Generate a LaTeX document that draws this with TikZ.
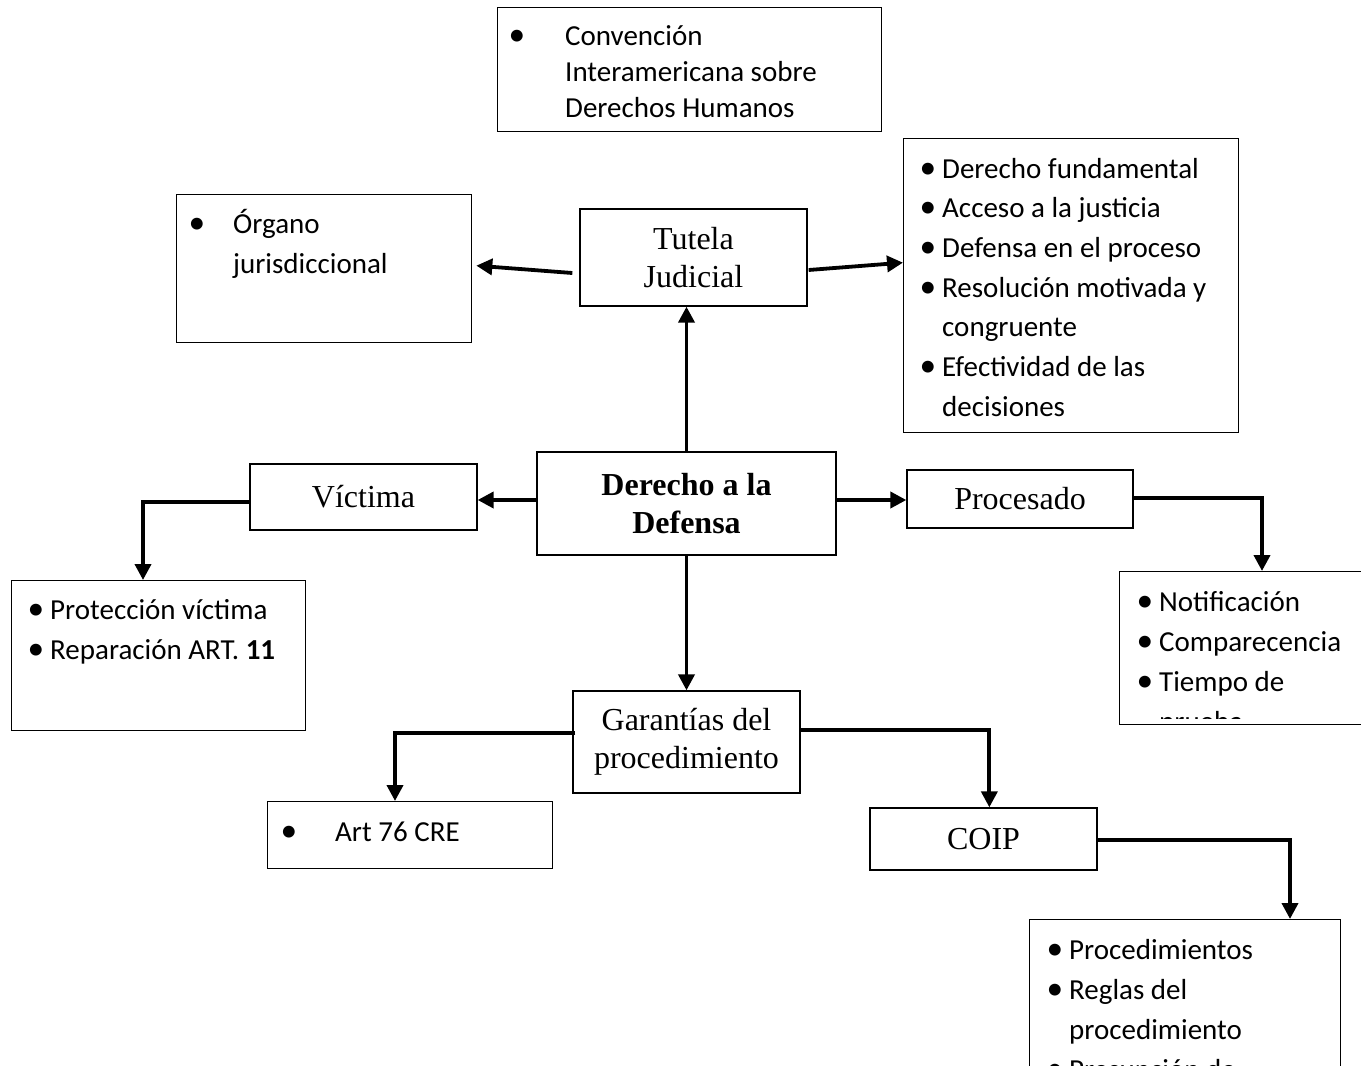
\documentclass[tikz,border=0pt]{standalone}
\usepackage{fontspec}
\setmainfont{Carlito}
\newfontfamily\tnr{Liberation Serif}
\usetikzlibrary{arrows.meta,calc}
\newcommand{\bul}[1]{\leavevmode\llap{\scalebox{1.15}{•}\hspace{#1}}}
\begin{document}
\begin{tikzpicture}[x=1pt,y=-1pt,
 box/.style={draw, line width=1.3pt, rectangle, inner sep=0pt, anchor=north west},
 lbl/.style={draw, line width=1.3pt, rectangle, inner sep=0pt, align=center, font=\tnr\fontsize{32}{38}\selectfont},
 lst/.style={inner sep=0pt, anchor=base west, font=\fontsize{29}{40}\selectfont},
 arr/.style={line width=3.8pt, -{Triangle[length=16pt,width=16pt]}}
]
\useasboundingbox (0,0) rectangle (1361,1066);
\clip (0,0) rectangle (1361,1066);
\fill[white] (0,0) rectangle (1361,1066);

% label boxes
\node[lbl, minimum width=227pt, minimum height=97pt] (tut) at (693.5,257.5) {Tutela\\Judicial};
\node[lbl, minimum width=299pt, minimum height=103pt, font=\tnr\bfseries\fontsize{32}{38}\selectfont] (der) at (686.5,503.5) {Derecho a la\\Defensa};
\node[lbl, minimum width=227pt, minimum height=66pt] (vic) at (363.5,497) {Víctima};
\node[lbl, minimum width=226pt, minimum height=58pt] (pro) at (1020,499) {Procesado};
\node[lbl, minimum width=227pt, minimum height=102pt] (gar) at (686.5,742) {Garantías del\\procedimiento};
\node[lbl, minimum width=227pt, minimum height=62pt] (coi) at (983.5,839) {COIP};

% list boxes
\node[box, minimum width=384pt, minimum height=124pt] (conv) at (497,7) {};
\node[box, minimum width=295pt, minimum height=148pt] (org) at (176,194) {};
\node[box, minimum width=335pt, minimum height=294pt] (tl) at (903,138) {};
\node[box, minimum width=294pt, minimum height=150pt] (prot) at (11,580) {};
\node[box, minimum width=260pt, minimum height=153pt] (plst) at (1119,571) {};
\node[box, minimum width=285pt, minimum height=67pt] (art) at (267,801) {};
\node[box, minimum width=311pt, minimum height=160pt] (blst) at (1029,919) {};

% list texts
\node[lst, font=\fontsize{29}{36}\selectfont] (convt) at (565,45) {\parbox[t]{310pt}{\bul{40pt}Convención\\Interamericana sobre\\Derechos Humanos}};
\node[lst] (orgt) at (233,233) {\parbox[t]{230pt}{\bul{28pt}Órgano\\jurisdiccional}};
\node[lst, font=\fontsize{29}{39.7}\selectfont] (tlt) at (942,178) {\parbox[t]{290pt}{\bul{6pt}Derecho fundamental\\\bul{6pt}Acceso a la justicia\\\bul{6pt}Defensa en el proceso\\\bul{6pt}Resolución motivada y\\congruente\\\bul{6pt}Efectividad de las\\decisiones}};
\node[lst] (prott) at (50,619) {\parbox[t]{250pt}{\bul{6pt}Protección víctima\\\bul{6pt}Reparación ART. \textbf{11}}};
\begin{scope}
\clip (1119,571) rectangle (1361,718);
\node[lst] (plstt) at (1159,611) {\parbox[t]{200pt}{\bul{6pt}Notificación\\\bul{6pt}Comparecencia\\\bul{6pt}Tiempo de\\prueba}};
\end{scope}
\node[lst] (artt) at (335,841) {\parbox[t]{200pt}{\bul{38pt}Art 76 CRE}};
\node[lst, font=\fontsize{29}{40}\selectfont] (blstt) at (1069,959) {\parbox[t]{260pt}{\bul{6pt}Procedimientos\\\bul{6pt}Reglas del\\procedimiento\\\bul{6pt}Presunción de}};

% connectors
\draw[arr] (der.north) -- (der.north |- tut.south);
\draw[arr] ($(tut.west)+(-7,15.5)$) -- ($(org.east)+(4,-3)$);
\draw[arr] ($(tut.east)+(1,12.5)$) -- ($(tl.west)+(0,-23)$);
\draw[arr] ($(der.west)+(0,-3.5)$) -- ($(vic.east)+(0,3)$);
\draw[arr] ($(der.east)+(0,-3.5)$) -- ($(pro.west)+(0,1)$);
\draw[arr] (der.south) -- (gar.north);
\draw[arr] ($(vic.west)+(0,5)$) -| ($(prot.north west)+(132,0)$);
\draw[arr] ($(pro.east)+(0,-1)$) -| ($(plst.north west)+(143,0)$);
\draw[arr] ($(gar.west)+(3,-9)$) -| ($(art.north west)+(128,0)$);
\draw[arr] ($(gar.east)+(0,-12)$) -| ($(coi.north west)+(120,0)$);
\draw[arr] ($(coi.east)+(0,1)$) -| ($(blst.north west)+(261,0)$);
\end{tikzpicture}
\end{document}
